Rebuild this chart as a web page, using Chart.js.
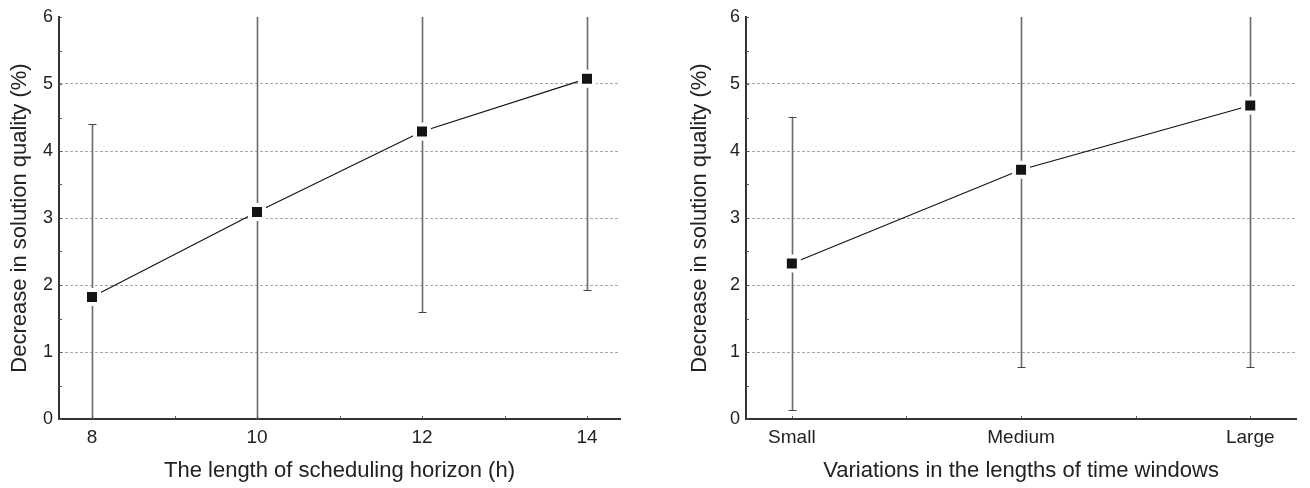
<!DOCTYPE html>
<html>
<head>
    <title>Decrease in solution quality</title>
    <script src="https://cdn.jsdelivr.net/npm/chart.js"></script>
    <style>
        body { margin: 0; background: #fff; }
        .wrap { position: absolute; top: 0; height: 488px; }
    </style>
</head>
<body>
    <div class="wrap" style="left:0;width:640px"><canvas id="horizonChart"></canvas></div>
    <div class="wrap" style="left:640px;width:670px"><canvas id="windowChart"></canvas></div>

    <script>
    // Scheduling horizon (h): mean decrease and standard deviation
    const horizonHours = [8, 10, 12, 14];
    const horizonMean = [1.82, 3.09, 4.29, 5.08];
    const horizonSd = [2.58, 3.30, 2.70, 3.16];

    // Time window length variation
    const windowLabels = ['Small', 'Medium', 'Large'];
    const windowMean = [2.32, 3.72, 4.68];
    const windowSd = [2.19, 2.95, 3.91];

    const yTicks = [0, 1, 2, 3, 4, 5, 6];

    const FONT = '"Liberation Sans", Arial, Helvetica, sans-serif';

    // error bars (mean +/- sd), clipped to the plot, caps only when inside
    const errorBars = {
        id: 'errorBars',
        beforeDatasetsDraw(chart) {
            const ds = chart.data.datasets[0];
            const sd = chart.options.plugins.errorBars.sd;
            const {ctx, chartArea: area, scales: {x, y}} = chart;
            ctx.save();
            ctx.beginPath();
            ctx.rect(area.left, area.top, area.right - area.left, area.bottom - area.top);
            ctx.clip();
            ds.data.forEach((p, i) => {
                const px = Math.round(x.getPixelForValue(p.x)) + 0.5;
                const hi = p.y + sd[i], lo = p.y - sd[i];
                const top = y.getPixelForValue(Math.min(hi, y.max));
                const bot = y.getPixelForValue(Math.max(lo, y.min));
                ctx.strokeStyle = '#6a6a6a';
                ctx.lineWidth = 1.6;
                ctx.beginPath();
                ctx.moveTo(px, top);
                ctx.lineTo(px, bot);
                ctx.stroke();
                ctx.lineWidth = 1;
                ctx.strokeStyle = '#444';
                [hi, lo].forEach(v => {
                    if (v > y.min && v < y.max) {
                        const py = Math.round(y.getPixelForValue(v)) + 0.5;
                        ctx.beginPath();
                        ctx.moveTo(px - 4, py);
                        ctx.lineTo(px + 4, py);
                        ctx.stroke();
                    }
                });
            });
            ctx.restore();
        }
    };

    // small inward tick marks on both axes (majors and halfway minors)
    const innerTicks = {
        id: 'innerTicks',
        afterDraw(chart) {
            const {ctx, chartArea: area, scales: {x, y}} = chart;
            ctx.save();
            ctx.strokeStyle = '#555';
            ctx.lineWidth = 1;
            x.ticks.forEach(t => {
                const px = Math.round(x.getPixelForValue(t.value)) + 0.5;
                ctx.beginPath();
                ctx.moveTo(px, area.bottom);
                ctx.lineTo(px, area.bottom - 3);
                ctx.stroke();
            });
            for (let v = y.min; v <= y.max; v += 0.5) {
                const py = Math.round(y.getPixelForValue(v)) + 0.5;
                ctx.beginPath();
                ctx.moveTo(area.left, py);
                ctx.lineTo(area.left + 3, py);
                ctx.stroke();
            }
            ctx.restore();
        }
    };

    function makeChart(id, points, sd, xOpts, xTitle, pad, yWidth) {
        return new Chart(document.getElementById(id), {
            type: 'line',
            data: {
                datasets: [{
                    data: points,
                    borderColor: '#111',
                    borderWidth: 1.1,
                    pointStyle: 'rect',
                    pointRadius: 9.9,
                    pointHoverRadius: 9.9,
                    pointBackgroundColor: '#141414',
                    pointBorderColor: '#fff',
                    pointBorderWidth: 4,
                    tension: 0,
                    clip: false
                }]
            },
            options: {
                responsive: true,
                maintainAspectRatio: false,
                animation: false,
                layout: { padding: pad },
                plugins: {
                    legend: { display: false },
                    tooltip: { enabled: false },
                    errorBars: { sd: sd }
                },
                scales: {
                    x: Object.assign({
                        type: 'linear',
                        grid: { display: false, drawTicks: false, tickLength: 0 },
                        border: { display: true, color: '#333', width: 2 },
                        title: {
                            display: true,
                            text: xTitle,
                            color: '#222',
                            font: { family: FONT, size: 22 },
                            padding: { top: 4, bottom: 4 }
                        },
                        afterFit: s => { s.height = 69; }
                    }, xOpts),
                    y: {
                        min: yTicks[0],
                        max: yTicks[yTicks.length - 1],
                        afterBuildTicks: s => { s.ticks = yTicks.map(v => ({ value: v })); },
                        ticks: {
                            color: '#222',
                            padding: 6,
                            font: { family: FONT, size: 18 }
                        },
                        grid: {
                            drawTicks: false,
                            color: ctx => (ctx.tick && ctx.tick.value > yTicks[0] && ctx.tick.value < yTicks[yTicks.length - 1]) ? '#a8a8a8' : 'rgba(0,0,0,0)',
                            lineWidth: 1
                        },
                        border: { display: true, color: '#333', width: 2, dash: [3, 2] },
                        title: {
                            display: true,
                            text: 'Decrease in solution quality (%)',
                            color: '#222',
                            font: { family: FONT, size: 22 },
                            padding: { top: 4, bottom: 4 }
                        },
                        afterFit: s => { s.width = yWidth; }
                    }
                }
            },
            plugins: [errorBars, innerTicks]
        });
    }

    const tickFont = { family: FONT, size: 19 };

    makeChart('horizonChart',
        horizonHours.map((h, i) => ({ x: h, y: horizonMean[i] })),
        horizonSd,
        {
            min: 7.6, max: 14.4,
            ticks: {
                stepSize: 1, includeBounds: false, autoSkip: false, maxRotation: 0,
                padding: 7, color: '#222', font: tickFont,
                callback: v => (v % 2 === 0 ? String(v) : '')
            }
        },
        'The length of scheduling horizon (h)',
        { left: 3, right: 20, top: 17, bottom: 0 },
        56);

    makeChart('windowChart',
        windowLabels.map((c, i) => ({ x: i, y: windowMean[i] })),
        windowSd,
        {
            min: -0.2, max: 2.2,
            ticks: {
                stepSize: 0.5, includeBounds: false, autoSkip: false, maxRotation: 0,
                padding: 7, color: '#222', font: tickFont,
                callback: v => (Number.isInteger(v) ? windowLabels[v] : '')
            }
        },
        'Variations in the lengths of time windows',
        { left: 43, right: 3, top: 17, bottom: 0 },
        63);
    </script>
</body>
</html>
